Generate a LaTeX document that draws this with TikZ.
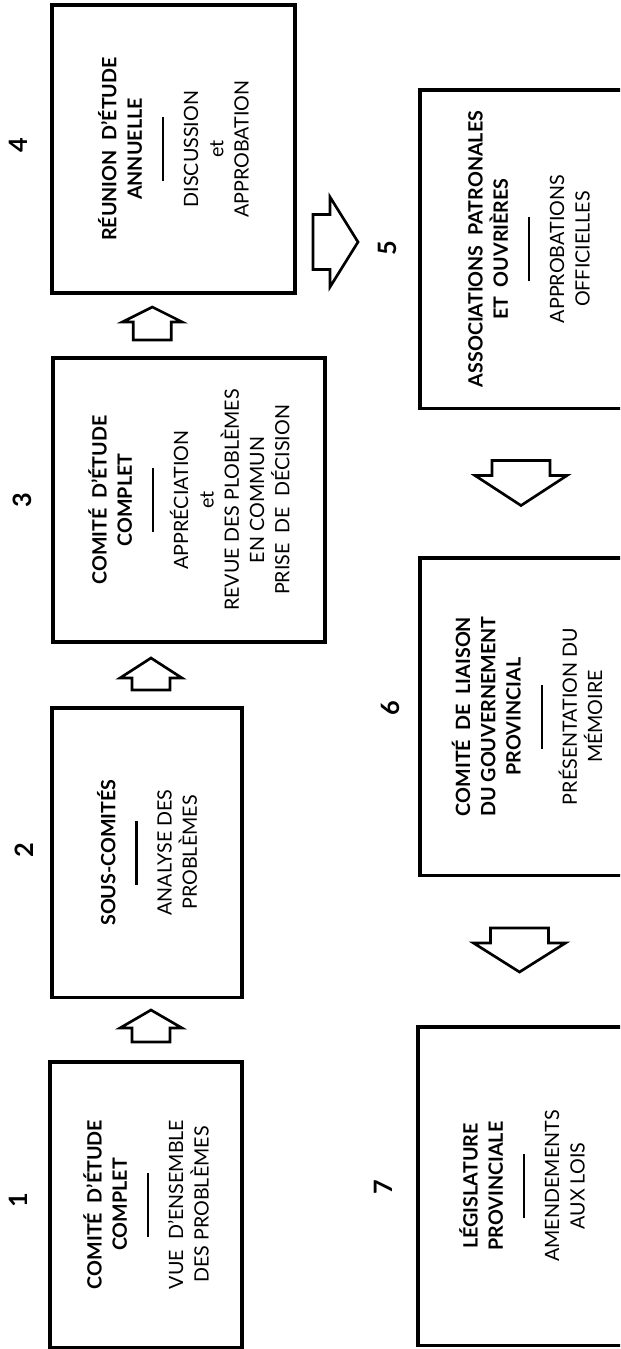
\documentclass[tikz,border=0pt]{standalone}
\usepackage{fontspec}
\setmainfont{Lato}
\usetikzlibrary{calc}

\begin{document}
\begin{tikzpicture}[
x=0.025cm, y=-0.025cm,
box/.style={draw, line width=2.2pt, rotate=90, align=center, inner sep=0pt, font=\fontsize{14}{18}\selectfont},
num/.style={rotate=90, font=\fontsize{18}{18}\selectfont\bfseries},
pics/blockarrow/.style n args={4}{code={
  \draw[line width=1.9pt] (#1/2,0) -- (#1/2-#2,#4/2) -- (#1/2-#2,#3/2) -- (-#1/2,#3/2)
    -- (-#1/2,-#3/2) -- (#1/2-#2,-#3/2) -- (#1/2-#2,-#4/2) -- cycle;}} ]

\useasboundingbox (0,0) rectangle (620,1349);
\clip (0,0) rectangle (620,1349);

\node[box, minimum width=7.125cm, minimum height=4.8cm] (b1) at (146,1204.5)
  {\textbf{COMITÉ\ \ D'ÉTUDE}\\\textbf{COMPLET}\\[2pt]\rule[4pt]{1.6cm}{1.8pt}\\[2pt]VUE\ \ D'ENSEMBLE\\DES PROBLÈMES};

\node[box, minimum width=7.225cm, minimum height=4.75cm] (b2) at (147,852.5)
  {\textbf{SOUS-COMITÉS}\\[2pt]\rule[4pt]{1.6cm}{1.8pt}\\[2pt]ANALYSE DES\\PROBLÈMES};

\node[box, minimum width=7.1cm, minimum height=6.8cm] (b3) at (189,500)
  {\textbf{COMITÉ\ \ D'ÉTUDE}\\\textbf{COMPLET}\\[2pt]\rule[4pt]{1.6cm}{1.8pt}\\[2pt]APPRÉCIATION\\et\\REVUE DES PLOBLÈMES\\EN COMMUN\\PRISE\ \ DE\ \ DÉCISION};

\node[box, minimum width=7.2cm, minimum height=6.075cm] (b4) at (173.5,149)
  {\textbf{RÉUNION\ \ D'ÉTUDE}\\\textbf{ANNUELLE}\\[2pt]\rule[4pt]{1.6cm}{1.8pt}\\[2pt]DISCUSSION\\et\\APPROBATION};

\node[box, minimum width=7.95cm, minimum height=5.45cm] (b5) at (529,249)
  {\textbf{ASSOCIATIONS\ \ PATRONALES}\\\textbf{ET\ \ OUVRIÈRES}\\[2pt]\rule[4pt]{1.6cm}{1.8pt}\\[2pt]APPROBATIONS\\OFFICIELLES};

\node[box, minimum width=7.925cm, minimum height=5.35cm] (b6) at (527,716.5)
  {\textbf{COMITÉ\ \ DE\ \ LIAISON}\\\textbf{DU GOUVERNEMENT}\\\textbf{PROVINCIAL}\\[2pt]\rule[4pt]{1.6cm}{1.8pt}\\[2pt]PRÉSENTATION DU\\MÉMOIRE};

\node[box, minimum width=7.95cm, minimum height=5.2cm] (b7) at (522,1186)
  {\textbf{LÉGISLATURE}\\\textbf{PROVINCIALE}\\[2pt]\rule[4pt]{1.6cm}{1.8pt}\\[2pt]AMENDEMENTS\\AUX LOIS};

\node[num] (n1) at (18,1200) {1};
\node[num] (n2) at (24,850) {2};
\node[num] (n3) at (22,500) {3};
\node[num] (n4) at (18,145) {4};
\node[num] (n5) at (387,248) {5};
\node[num] (n6) at (390,708) {6};
\node[num] (n7) at (383,1187) {7};

% arrows between the boxes
\pic[rotate=90] at ($(b1.east)!0.5!(b2.west)+(4.5,-3.5)$) {blockarrow={32}{18}{38}{62}};
\pic[rotate=90] at ($(b2.east)!0.5!(b3.west)+(-17,-1)$) {blockarrow={32}{20}{38}{62}};
\pic[rotate=90] at ($(b3.east)!0.5!(b4.west)+(-29,-2)$) {blockarrow={33}{15}{38}{60}};
\pic at ($(b4.south)!0.5!(b5.north)+(-22,43)$) {blockarrow={45}{28}{55}{90}};
\pic[rotate=-90] at ($(b5.west)!0.5!(b6.east)+(-7,0)$) {blockarrow={45}{30}{58}{92}};
\pic[rotate=-90] at ($(b6.west)!0.5!(b7.east)+(-5,-1)$) {blockarrow={44}{29}{58}{92}};

\end{tikzpicture}
\end{document}
